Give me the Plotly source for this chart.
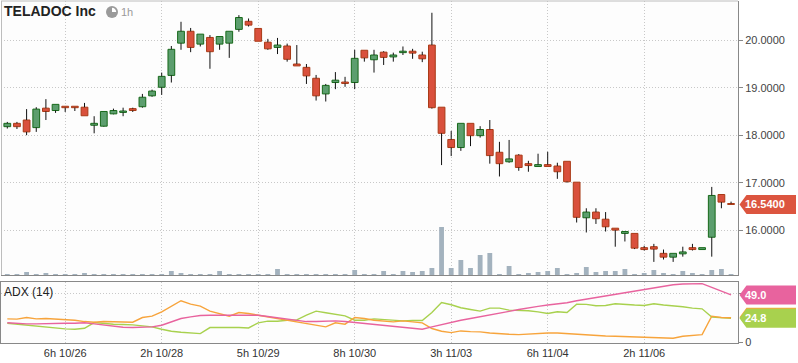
import plotly.graph_objects as go

# ---------------- data ----------------
x_idx = list(range(76))

opens = [18.18, 18.25, 18.32, 18.16, 18.57, 18.52, 18.61, 18.61, 18.59, 18.21,
         18.19, 18.45, 18.48, 18.56, 18.60, 18.83, 19.01, 19.26, 19.94, 20.19,
         19.92, 20.06, 19.92, 19.94, 20.23, 20.40, 20.25, 19.96, 19.85, 19.88,
         19.50, 19.43, 19.20, 18.87, 19.11, 19.12, 19.11, 19.79, 19.59, 19.75,
         19.65, 19.74, 19.77, 19.69, 19.90, 18.59, 17.91, 17.74, 18.25, 17.99,
         18.12, 17.64, 17.44, 17.58, 17.40, 17.34, 17.38, 17.35, 17.45, 17.01,
         16.26, 16.38, 16.23, 16.04, 15.93, 15.93, 15.63, 15.65, 15.51, 15.43,
         15.50, 15.63, 15.59, 15.85, 16.75, 16.56]
highs = [18.28, 18.28, 18.55, 18.59, 18.76, 18.65, 18.61, 18.61, 18.68, 18.40,
         18.50, 18.56, 18.58, 18.58, 18.87, 18.96, 19.32, 19.88, 20.39, 20.26,
         20.13, 20.11, 20.08, 20.19, 20.53, 20.46, 20.25, 20.03, 20.05, 19.93,
         19.90, 19.50, 19.27, 19.08, 19.33, 19.23, 19.80, 19.79, 19.80, 19.77,
         19.74, 19.87, 19.82, 19.76, 20.58, 18.59, 18.09, 18.25, 18.25, 18.19,
         18.32, 17.86, 17.90, 17.60, 17.46, 17.61, 17.65, 17.42, 17.45, 17.01,
         16.46, 16.46, 16.38, 16.04, 15.97, 15.93, 15.67, 15.71, 15.59, 15.51,
         15.65, 15.71, 15.63, 16.91, 16.75, 16.60]
lows = [18.14, 18.13, 18.00, 18.07, 18.32, 18.47, 18.49, 18.51, 18.41, 18.04,
        18.18, 18.44, 18.40, 18.49, 18.58, 18.81, 18.85, 19.11, 19.80, 19.75,
        19.87, 19.40, 19.80, 19.63, 20.18, 20.29, 19.98, 19.80, 19.71, 19.55,
        19.46, 19.08, 18.73, 18.71, 18.97, 19.02, 18.97, 19.55, 19.32, 19.48,
        19.55, 19.69, 19.61, 19.54, 18.56, 17.37, 17.56, 17.67, 17.77, 17.95,
        17.40, 17.13, 17.42, 17.25, 17.23, 17.34, 17.34, 17.08, 17.00, 16.16,
        15.95, 16.13, 15.97, 15.65, 15.76, 15.60, 15.57, 15.33, 15.38, 15.33,
        15.44, 15.57, 15.59, 15.44, 16.46, 16.54]
closes = [18.25, 18.18, 18.07, 18.55, 18.50, 18.65, 18.58, 18.58, 18.41, 18.25,
          18.50, 18.52, 18.51, 18.52, 18.80, 18.93, 19.24, 19.81, 20.19, 19.85,
          20.13, 19.76, 20.08, 20.19, 20.48, 20.32, 19.98, 19.82, 19.90, 19.60,
          19.46, 19.25, 18.83, 19.05, 19.16, 19.09, 19.62, 19.63, 19.69, 19.64,
          19.69, 19.77, 19.73, 19.61, 18.58, 18.04, 17.74, 18.25, 17.99, 18.12,
          17.57, 17.40, 17.50, 17.32, 17.36, 17.38, 17.34, 17.23, 17.02, 16.27,
          16.38, 16.24, 16.07, 16.00, 15.97, 15.62, 15.59, 15.60, 15.43, 15.51,
          15.54, 15.59, 15.63, 16.73, 16.59, 16.54]
# volume, thousands of shares (estimated)
volume = [6, 20, 60, 20, 40, 6, 6, 6, 40, 20,
          6, 6, 6, 6, 6, 20, 6, 80, 40, 20,
          6, 20, 80, 6, 6, 6, 6, 6, 120, 20,
          20, 6, 6, 20, 20, 6, 100, 6, 20, 80,
          6, 80, 60, 80, 140, 960, 140, 300, 140, 400,
          440, 20, 180, 6, 40, 60, 80, 140, 6, 40,
          160, 60, 80, 80, 120, 6, 40, 100, 40, 6,
          80, 40, 6, 100, 120, 6]

adx = [20.1, 19.4, 19.0, 19.0, 19.4, 19.4, 19.7, 19.7, 20.1, 19.0,
       17.6, 16.2, 15.5, 15.2, 15.2, 15.9, 17.6, 21.1, 24.6, 26.3,
       27.7, 28.0, 28.0, 28.0, 28.0, 28.4, 28.0, 26.7, 25.3, 23.9,
       22.5, 21.4, 21.4, 22.1, 22.1, 21.4, 20.4, 19.4, 18.3, 17.3,
       16.2, 15.5, 14.5, 13.5, 15.9, 18.3, 20.7, 22.8, 24.6, 26.3,
       28.0, 29.8, 31.9, 33.9, 35.7, 37.1, 38.5, 39.5, 40.9, 43.0,
       44.7, 46.4, 48.2, 49.9, 51.7, 53.4, 55.1, 56.5, 57.9, 59.6,
       60.3, 60.7, 60.7, 56.9, 53.0, 49.0]
plus_di = [19.7, 18.7, 17.6, 16.6, 15.2, 14.2, 13.8, 13.5, 14.5, 20.4,
           19.4, 18.7, 18.3, 18.0, 16.9, 15.9, 13.5, 11.4, 10.3, 9.6,
           8.9, 15.2, 15.2, 15.9, 15.2, 14.8, 20.1, 21.8, 21.8, 22.8,
           23.2, 28.0, 32.2, 30.5, 28.7, 27.3, 22.8, 22.8, 24.2, 23.5,
           22.5, 22.1, 22.5, 22.5, 30.8, 41.2, 38.8, 35.7, 33.9, 32.2,
           35.3, 35.3, 33.3, 33.3, 32.6, 31.5, 29.8, 31.5, 30.8, 39.5,
           39.2, 37.8, 38.1, 39.8, 38.8, 38.5, 38.1, 39.8, 38.5, 37.8,
           36.7, 35.3, 34.6, 26.0, 25.3, 24.8]
minus_di = [24.2, 23.9, 25.6, 24.2, 24.6, 24.2, 23.5, 22.8, 21.4, 20.7,
            21.4, 21.4, 21.1, 20.7, 25.6, 27.0, 31.5, 37.4, 43.0, 39.5,
            37.4, 32.2, 29.8, 27.0, 30.8, 29.8, 28.0, 26.3, 24.6, 22.8,
            21.1, 19.4, 17.3, 15.9, 20.1, 18.7, 25.6, 24.6, 22.8, 21.8,
            21.1, 22.1, 21.1, 20.1, 14.2, 11.4, 10.0, 11.7, 11.0, 10.7,
            9.6, 8.6, 8.25, 7.9, 8.6, 8.9, 9.6, 9.6, 8.9, 7.9,
            7.2, 6.9, 6.5, 6.2, 5.8, 5.5, 5.1, 4.8, 4.4, 4.1,
            6.2, 7.2, 7.9, 27.0, 25.6, 25.3]

tick_pos = [6, 16, 26, 36, 46, 56, 66]
tick_labels = ["6h 10/26", "2h 10/28", "5h 10/29", "8h 10/30",
               "3h 11/03", "6h 11/04", "2h 11/06"]
price_ticks = [16, 17, 18, 19, 20]
price_tick_text = ["16.0000", "17.0000", "18.0000", "19.0000", "20.0000"]

# ---------------- styling ----------------
W, H = 798, 363
ML, MR, MT, MB = 1, 60, 1, 20
PW = W - ML - MR
PH = H - MT - MB
FONT = "Liberation Sans, Arial, sans-serif"

UP_FILL, UP_LINE = "#5c9e6e", "#17691a"
DN_FILL, DN_LINE = "#d9503c", "#a93a16"
VOL_COL = "#a3b2be"
PINK, GREEN, ORANGE = "#e8639e", "#a8d14e", "#f7a43c"
GRID = "#c8c8c8"


def px_x(px):
    return (px - ML) / PW


def px_y(py):
    return (H - MB - py) / PH


main_dom = [px_y(275), 1.0]
adx_dom = [0.0, px_y(281.7)]

fig = go.Figure()

# volume bars
fig.add_trace(go.Bar(x=x_idx, y=volume, width=0.5, marker=dict(color=VOL_COL, line_width=0),
                     xaxis="x", yaxis="y3", hoverinfo="skip", showlegend=False))

# wicks (split around body)
wx, wy = [], []
for i, o, h, l, c in zip(x_idx, opens, highs, lows, closes):
    lo_b, hi_b = min(o, c), max(o, c)
    if l < lo_b:
        wx += [i, i, None]
        wy += [l, lo_b, None]
    if h > hi_b:
        wx += [i, i, None]
        wy += [hi_b, h, None]
fig.add_trace(go.Scatter(x=wx, y=wy, mode="lines", line=dict(color="#111111", width=1),
                         xaxis="x", yaxis="y", hoverinfo="skip", showlegend=False))

# bodies
is_up = [c >= o for o, c in zip(opens, closes)]
fig.add_trace(go.Bar(
    x=x_idx,
    y=[abs(c - o) for o, c in zip(opens, closes)],
    base=[min(o, c) for o, c in zip(opens, closes)],
    width=0.7,
    marker=dict(color=[UP_FILL if u else DN_FILL for u in is_up],
                line=dict(color=[UP_LINE if u else DN_LINE for u in is_up], width=1)),
    xaxis="x", yaxis="y", hoverinfo="skip", showlegend=False))

# ADX lines
for vals, col in [(plus_di, GREEN), (minus_di, ORANGE), (adx, PINK)]:
    fig.add_trace(go.Scatter(x=x_idx, y=vals, mode="lines", line=dict(color=col, width=1.4),
                             xaxis="x2", yaxis="y2", hoverinfo="skip", showlegend=False))

xr = [(ML - 7.3) / 9.65, (738 - 7.3) / 9.65]
yr_main = [20 - (275 - 40.3) / 47.45, 20 + (40.3 - 1) / 47.45]
yr_adx = [-0.8, 62.7]

grid_common = dict(showgrid=True, gridcolor=GRID, gridwidth=1, griddash="1px,2px", zeroline=False)

fig.update_layout(
    width=W, height=H,
    margin=dict(l=ML, r=MR, t=MT, b=MB, pad=0),
    paper_bgcolor="white", plot_bgcolor="#fdfdfd",
    barmode="overlay", hovermode=False, showlegend=False,
    font=dict(family=FONT, size=11, color="#444"),
    xaxis=dict(domain=[0, 1], anchor="y", range=xr, tickvals=tick_pos, ticktext=tick_labels,
               showticklabels=False, showline=True, linecolor="#888", linewidth=1, ticks="",
               **grid_common),
    yaxis=dict(domain=main_dom, anchor="x", side="right", range=yr_main, tickvals=price_ticks,
               ticktext=price_tick_text, showline=True, linecolor="#888", linewidth=1,
               ticks="outside", ticklen=4, tickcolor="#888",
               tickfont=dict(size=11, color="#444"), **grid_common),
    yaxis3=dict(overlaying="y", anchor="x", range=[0, 274 * 20], visible=False,
                showgrid=False, zeroline=False),
    xaxis2=dict(domain=[0, 1], anchor="y2", range=xr, tickvals=tick_pos, ticktext=tick_labels,
                matches="x", showline=True, mirror=True, linecolor="#888", linewidth=1, ticks="",
                tickfont=dict(size=11, color="#333"), **grid_common),
    yaxis2=dict(domain=adx_dom, anchor="x2", side="right", range=yr_adx, tickvals=[0, 50],
                ticktext=["0", ""], showline=True, mirror=True, linecolor="#888", linewidth=1,
                ticks="outside", ticklen=4, tickcolor="#888",
                tickfont=dict(size=11, color="#444"), **grid_common),
)

shapes = []
# top and left border of the main panel
shapes.append(dict(type="line", xref="paper", yref="paper", x0=0, x1=1, y0=1, y1=1,
                   line=dict(color="#bdbdbd", width=1), layer="above"))
shapes.append(dict(type="line", xref="paper", yref="paper", x0=px_x(1.5), x1=px_x(1.5),
                   y0=main_dom[0], y1=1, line=dict(color="#bdbdbd", width=1), layer="above"))

# clock icon
shapes.append(dict(type="circle", xref="paper", yref="paper",
                   x0=px_x(106), x1=px_x(118), y0=px_y(18), y1=px_y(6),
                   fillcolor="#9a9a9a", line=dict(width=0), layer="above"))
wedge = [(112, 12), (112, 7.8), (113.6, 8.1), (115, 9), (115.9, 10.4), (116.2, 12)]
path = "M " + " L ".join(f"{px_x(a):.5f},{px_y(b):.5f}" for a, b in wedge) + " Z"
shapes.append(dict(type="path", xref="paper", yref="paper", path=path,
                   fillcolor="white", line=dict(width=0), layer="above"))


def tag(yref, yc, half, color):
    xt, xl, xrgt = px_x(739.5), px_x(746.5), px_x(796)
    p = (f"M {xt:.5f},{yc} L {xl:.5f},{yc + half} L {xrgt:.5f},{yc + half} "
         f"L {xrgt:.5f},{yc - half} L {xl:.5f},{yc - half} Z")
    return dict(type="path", xref="paper", yref=yref, path=p, fillcolor=color,
                line=dict(width=0), layer="above")


price_half = 9.5 / 47.45
adx_half = 9.5 / (61.0 / (yr_adx[1] - yr_adx[0]))
last_price = closes[-1]
shapes.append(tag("y", last_price, price_half, "#dc553f"))
shapes.append(tag("y2", adx[-1], adx_half, PINK))
shapes.append(tag("y2", minus_di[-1] + 0.6, adx_half, ORANGE))
shapes.append(tag("y2", plus_di[-1], adx_half, GREEN))
fig.update_layout(shapes=shapes)

ann = []
ann.append(dict(text="<b>TELADOC Inc</b>", xref="paper", yref="paper", x=px_x(1.5), y=px_y(11.5),
                xanchor="left", yanchor="middle", showarrow=False,
                font=dict(family=FONT, size=14, color="#222")))
ann.append(dict(text="1h", xref="paper", yref="paper", x=px_x(119.5), y=px_y(12),
                xanchor="left", yanchor="middle", showarrow=False,
                font=dict(family=FONT, size=11, color="#9a9a9a")))
ann.append(dict(text="ADX (14)", xref="paper", yref="paper", x=px_x(2), y=px_y(292),
                xanchor="left", yanchor="middle", showarrow=False,
                font=dict(family=FONT, size=12, color="#222")))
for yref, val, txt in [("y", last_price, f"{last_price:.4f}"),
                       ("y2", adx[-1], f"{adx[-1]:.1f}"),
                       ("y2", plus_di[-1], f"{plus_di[-1]:.1f}")]:
    ann.append(dict(text=f"<b>{txt}</b>", xref="paper", yref=yref, x=px_x(743.5), y=val,
                    xanchor="left", yanchor="middle", showarrow=False,
                    font=dict(family=FONT, size=11, color="white")))
fig.update_layout(annotations=ann)

fig.write_html("out.html", config={"displayModeBar": False},
               post_script="document.body.style.margin='0';document.body.style.overflow='hidden';")
